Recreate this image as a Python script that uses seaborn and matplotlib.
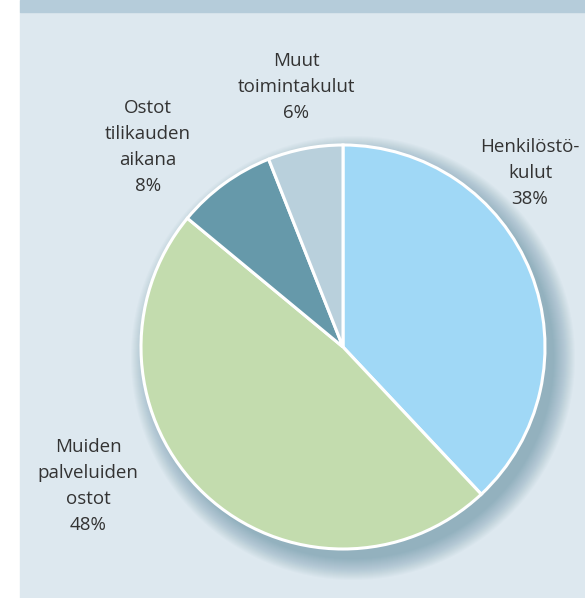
import matplotlib
matplotlib.use("Agg")
import matplotlib.pyplot as plt
import seaborn as sns
from matplotlib.patches import Rectangle, Circle

# data
labels = ["Henkilöstö-\nkulut", "Muiden\npalveluiden\nostot", "Ostot\ntilikauden\naikana", "Muut\ntoimintakulut"]
shares = [38, 48, 8, 6]
colors = ["#a0d8f6", "#c3dcae", "#6699aa", "#b9d0dc"]

# label anchor positions (pixel coords, y from bottom)
label_pos = [(530, 425), (88, 112), (148, 451), (296, 511)]

sns.set_style("white")
plt.rcParams["font.family"] = ["Open Sans", "DejaVu Sans"]

W, H = 585, 598
fig = plt.figure(figsize=(W / 100, H / 100), dpi=100)
ax = fig.add_axes([0, 0, 1, 1])

# panel background + top band
ax.add_patch(Rectangle((20, 0), W - 20, H - 12, color="#dde8ef", zorder=0))
ax.add_patch(Rectangle((20, H - 12), W - 20, 12, color="#b5ccda", zorder=0))

cx, cy, r = 343, 251, 202

# soft shadow, down-right
for k in range(22):
    ax.add_patch(Circle((cx + 10, cy - 11), r + 20 - k, color="#4f7f98",
                        alpha=0.028, lw=0, zorder=1))

wedges, _ = ax.pie(shares, colors=colors, startangle=90, counterclock=False,
                   center=(cx, cy), radius=r, frame=True,
                   wedgeprops=dict(edgecolor="white", linewidth=2.2))
for w in wedges:
    w.set_zorder(2)

ax.set_xlim(0, W)
ax.set_ylim(0, H)
ax.set_aspect("equal")
ax.axis("off")

for (x, y), lab, s in zip(label_pos, labels, shares):
    ax.text(x, y, f"{lab}\n{s}%", ha="center", va="center", fontsize=13.5,
            color="#333333", linespacing=1.55, zorder=3)

fig.savefig("out.png", dpi=100)
